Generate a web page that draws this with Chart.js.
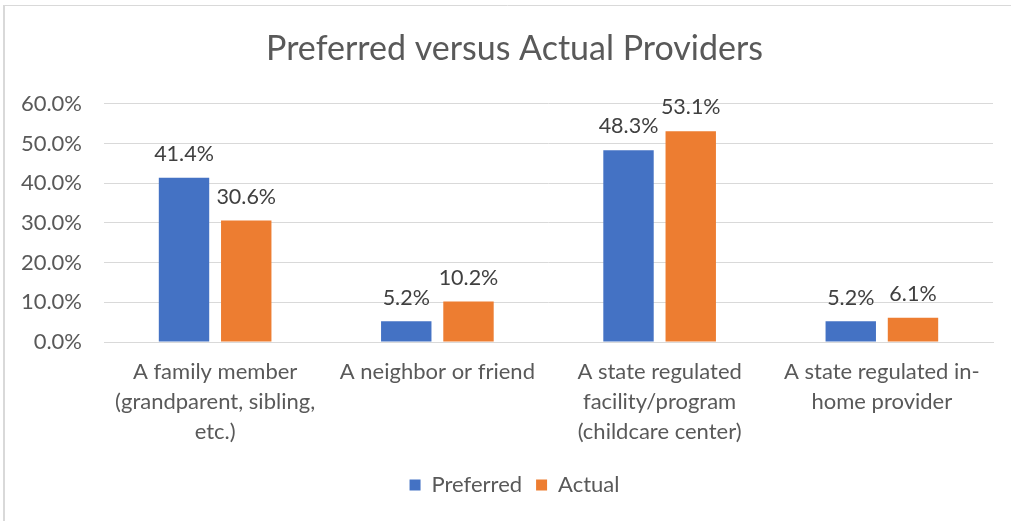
<!DOCTYPE html>
<html>
<head>
<meta charset="utf-8">
<script src="https://cdn.jsdelivr.net/npm/chart.js@4.4.0/dist/chart.umd.min.js"></script>
<style>
html,body{margin:0;padding:0;background:#fff;}
#wrap{position:relative;width:1011px;height:521px;}
</style>
</head>
<body>
<div id="wrap"><canvas id="c" width="1011" height="521"></canvas></div>
<script>
const categories = [
  ["A family member", "(grandparent, sibling,", "etc.)"],
  ["A neighbor or friend"],
  ["A state regulated", "facility/program", "(childcare center)"],
  ["A state regulated in-", "home provider"]
];
const preferred = [41.4, 5.2, 48.3, 5.2];
const actual = [30.6, 10.2, 53.1, 6.1];
const seriesNames = ["Preferred", "Actual"];
const titleText = "Preferred versus Actual Providers";

const FONT = "Lato, 'Open Sans', sans-serif";

const frame = {
  id: 'frame',
  afterLayout(chart) {
    // widen the label clip area of the y axis so tick labels are not cut
    chart.scales.y.left = 0;
  },
  beforeDraw(chart) {
    const ctx = chart.ctx;
    ctx.save();
    ctx.fillStyle = '#fff';
    ctx.fillRect(0, 0, chart.width, chart.height);
    ctx.strokeStyle = '#d9d9d9';
    ctx.lineWidth = 2;
    ctx.beginPath();
    ctx.moveTo(4, 521);
    ctx.lineTo(4, 5);
    ctx.stroke();
    ctx.lineWidth = 1;
    ctx.beginPath();
    ctx.moveTo(4, 5.5);
    ctx.lineTo(1011, 5.5);
    ctx.stroke();
    ctx.restore();
  }
};

const dataLabels = {
  id: 'dataLabels',
  afterDatasetsDraw(chart) {
    const ctx = chart.ctx;
    ctx.save();
    ctx.fillStyle = '#404040';
    ctx.font = "21.5px " + FONT;
    ctx.textAlign = 'center';
    ctx.textBaseline = 'bottom';
    chart.data.datasets.forEach((ds, i) => {
      const meta = chart.getDatasetMeta(i);
      meta.data.forEach((bar, j) => {
        ctx.fillText(ds.data[j].toFixed(1) + '%', bar.x, bar.y - 13);
      });
    });
    ctx.restore();
  }
};

new Chart(document.getElementById('c'), {
  type: 'bar',
  data: {
    labels: categories,
    datasets: [
      { label: seriesNames[0], data: preferred, backgroundColor: '#4472c4', borderWidth: 0 },
      { label: seriesNames[1], data: actual, backgroundColor: '#ed7d31', borderWidth: 0 }
    ]
  },
  options: {
    responsive: false,
    animation: false,
    devicePixelRatio: 1,
    layout: { padding: { left: 36, right: 18, top: 0, bottom: 15 } },
    datasets: { bar: { categoryPercentage: 0.56, barPercentage: 0.81 } },
    plugins: {
      title: {
        display: true,
        text: titleText,
        color: '#595959',
        font: { family: FONT, size: 34, weight: 'normal' },
        padding: { top: 29, bottom: 34 }
      },
      legend: {
        position: 'bottom',
        labels: {
          color: '#595959',
          font: { family: FONT, size: 22 },
          boxWidth: 11,
          boxHeight: 11,
          padding: 14
        }
      },
      tooltip: { enabled: false }
    },
    scales: {
      x: {
        grid: { display: false, drawTicks: false },
        border: { display: true, color: '#d9d9d9', width: 1 },
        ticks: {
          color: '#595959',
          font: { family: FONT, size: 22, lineHeight: 1.36 },
          maxRotation: 0,
          autoSkip: false,
          padding: 15
        },
        afterFit(scale) { scale.height = 118; }
      },
      y: {
        min: 0,
        max: 60,
        grid: { color: '#d9d9d9', drawTicks: false },
        border: { display: false },
        ticks: {
          stepSize: 10,
          color: '#595959',
          font: { family: FONT, size: 22 },
          padding: 22,
          callback: v => v.toFixed(1) + '%'
        },
        afterFit(scale) { scale.width = 68; }
      }
    }
  },
  plugins: [frame, dataLabels]
});
</script>
</body>
</html>
